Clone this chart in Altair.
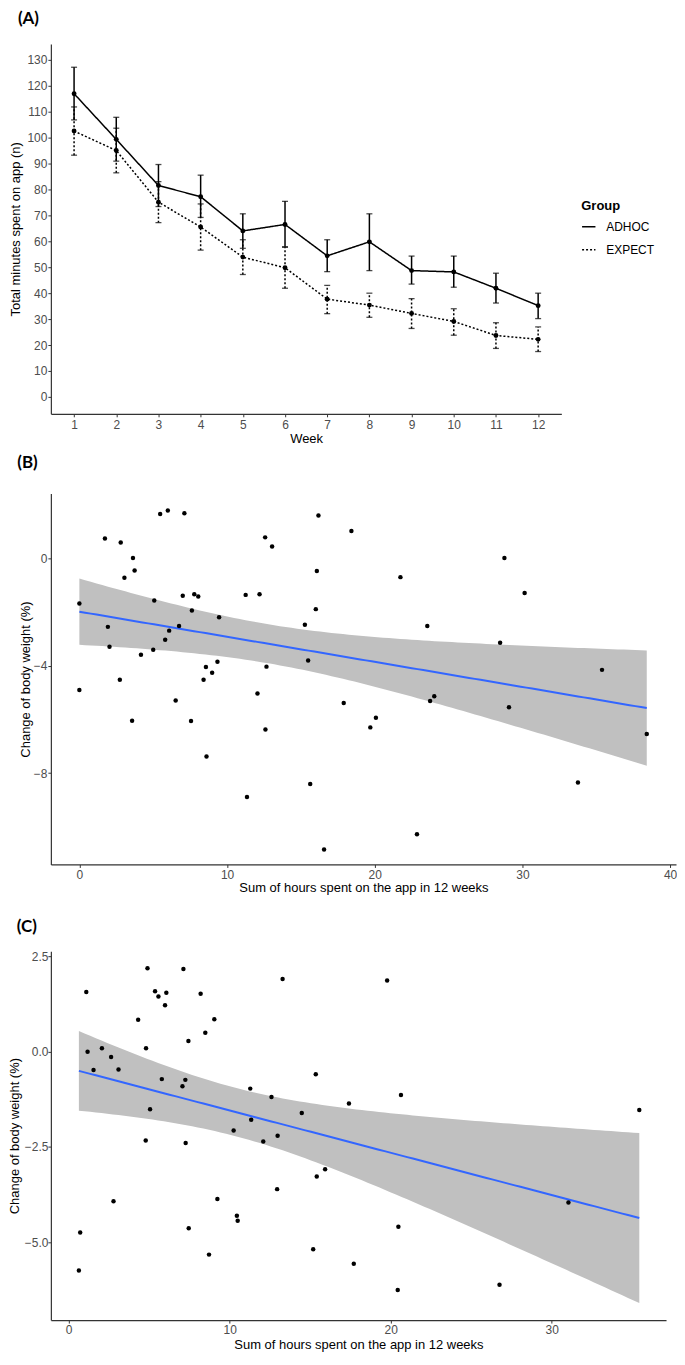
import altair as alt
import numpy as np
import pandas as pd

# ---------------- Panel A data ----------------
weeks = list(range(1, 13))
adhoc_mean = [116.9, 99.3, 81.5, 77.2, 64.0, 66.5, 54.4, 59.8, 48.7, 48.2, 41.9, 35.2]
adhoc_lo = [106.8, 90.9, 73.4, 69.2, 57.3, 57.9, 48.3, 48.7, 43.5, 42.3, 36.2, 30.2]
adhoc_hi = [127.1, 107.8, 89.6, 85.5, 70.6, 75.4, 60.6, 70.6, 54.3, 54.3, 47.7, 40.0]
expect_mean = [102.5, 95.0, 75.1, 65.5, 53.9, 49.8, 37.7, 35.4, 32.2, 29.1, 23.7, 22.2]
expect_lo = [93.2, 86.4, 67.2, 56.6, 47.2, 41.9, 32.1, 30.7, 26.4, 23.8, 18.7, 17.5]
expect_hi = [111.8, 103.6, 83.0, 74.4, 60.6, 57.7, 43.0, 40.0, 37.9, 34.0, 28.6, 27.0]
groups = ["ADHOC", "EXPECT"]

# ---------------- Panel B data ----------------
b_hours = [0.0, 0.0, 1.73, 1.93, 2.04, 2.74, 2.80, 3.05, 3.57, 3.63, 3.74, 4.17, 5.0, 5.07,
           5.47, 5.81, 5.99, 6.08, 6.52, 6.75, 7.0, 7.11, 7.56, 7.62, 7.78, 8.05, 8.41, 8.57,
           8.61, 8.99, 9.35, 9.46, 11.26, 11.35, 12.06, 12.20, 12.58, 12.60, 12.67, 13.05,
           15.27, 15.49, 15.63, 16.01, 16.08, 16.19, 16.57, 17.9, 18.42, 21.74, 23.56, 19.70,
           20.08, 23.75, 24.03, 22.86, 28.78, 28.49, 29.09, 30.15, 33.76, 35.39, 38.42]
b_change = [-1.69, -4.91, 0.73, -2.56, -3.30, -4.53, 0.58, -0.73, -6.05, 0.0, -0.46, -3.60,
            -3.41, -1.58, 1.64, -3.04, 1.77, -2.70, -5.30, -2.53, -1.40, 1.67, -6.06, -1.95,
            -1.35, -1.43, -4.53, -4.05, -7.38, -4.27, -3.86, -2.20, -1.37, -8.89, -5.04, -1.35,
            0.77, -6.38, -4.04, 0.43, -2.48, -3.81, -8.41, -1.90, -0.48, 1.58, -10.84, -5.39,
            1.01, -0.71, -2.53, -6.30, -5.94, -5.32, -5.14, -10.28, 0.0, -3.15, -5.55, -1.30,
            -8.35, -4.16, -6.55]

# ---------------- Panel C data ----------------
c_hours = [1.10, 1.18, 1.55, 2.07, 2.64, 3.10, 2.79, 0.72, 0.64, 4.32, 4.81, 4.90, 4.79, 5.06,
           5.37, 5.58, 6.07, 5.99, 5.79, 7.13, 7.44, 7.25, 7.07, 7.27, 7.46, 8.20, 8.49, 9.05,
           9.24, 8.72, 10.25, 10.45, 10.50, 11.28, 11.34, 12.09, 12.60, 12.98, 12.95, 13.29,
           14.48, 15.35, 15.41, 15.19, 15.93, 17.41, 19.78, 20.64, 17.71, 20.48, 20.44, 26.76,
           31.04, 35.44]
c_change = [1.57, 0.0, -0.48, 0.09, -0.14, -0.47, -3.93, -4.75, -5.75, 0.84, 0.09, 2.19, -2.33,
            -1.51, 1.59, 1.45, 1.55, 1.22, -0.72, 2.17, 0.28, -0.74, -0.91, -2.40, -4.64, 1.52,
            0.50, 0.85, -3.87, -5.33, -2.07, -4.31, -4.44, -0.97, -1.79, -2.36, -1.19, -2.21,
            -3.61, 1.91, -1.61, -0.59, -3.28, -5.19, -3.09, -1.36, 1.87, -1.14, -5.57, -4.60,
            -6.26, -6.12, -3.96, -1.53]


def fit_band(xs, ys, n=100, t=2.0):
    x = np.array(xs, dtype=float)
    y = np.array(ys, dtype=float)
    nobs = len(x)
    xm = x.mean()
    sxx = ((x - xm) ** 2).sum()
    b = ((x - xm) * (y - y.mean())).sum() / sxx
    a = y.mean() - b * xm
    s = np.sqrt(((y - (a + b * x)) ** 2).sum() / (nobs - 2))
    grid = np.linspace(x.min(), x.max(), n)
    fit = a + b * grid
    se = s * np.sqrt(1.0 / nobs + (grid - xm) ** 2 / sxx)
    return pd.DataFrame({"x": grid, "fit": fit, "lo": fit - t * se, "hi": fit + t * se})


FONT = "Liberation Sans"
LABEL_COLOR = "#4d4d4d"
AXIS_COLOR = "#333333"


def axis(**kw):
    base = dict(grid=False, domainColor=AXIS_COLOR, domainWidth=1.2, tickColor=AXIS_COLOR,
                tickSize=3, tickWidth=1, labelColor=LABEL_COLOR, labelFontSize=12,
                labelFont=FONT, titleFont=FONT, titleFontSize=13, titleFontWeight="normal",
                titleColor="black", labelOverlap=False)
    base.update(kw)
    return alt.Axis(**base)


def panel_title(txt, offset):
    return alt.TitleParams(txt, anchor="start", font="Lato", fontSize=17, fontWeight="bold",
                           color="black", offset=offset, dx=8)


# ---------------- Panel A ----------------
rows = []
for g, m, lo, hi in [("ADHOC", adhoc_mean, adhoc_lo, adhoc_hi),
                     ("EXPECT", expect_mean, expect_lo, expect_hi)]:
    for w, mm, ll, hh in zip(weeks, m, lo, hi):
        rows.append({"Week": w, "Group": g, "Mean": mm, "Lo": ll, "Hi": hh})
dfA = pd.DataFrame(rows)

xscaleA = alt.Scale(domain=[0.45, 12.55], nice=False, zero=False)
xA_axis = axis(values=weeks, title="Week", labelPadding=3, titlePadding=2)
yA_axis = axis(values=list(range(0, 131, 10)), title="Total minutes spent on app (n)",
               labelPadding=1, titlePadding=4)
yscaleA = alt.Scale(domain=[-6.5, 136.1], nice=False, zero=False)


def xa():
    return alt.X("Week:Q", scale=xscaleA, axis=xA_axis)


def ya(field):
    return alt.Y(field, scale=yscaleA, axis=yA_axis)


dash = alt.StrokeDash("Group:N",
                      scale=alt.Scale(domain=groups, range=[[1, 0], [2, 2]]),
                      legend=alt.Legend(title="Group", orient="none", legendX=532, legendY=157,
                                        titleFont=FONT, titleFontSize=13, titleFontWeight="bold",
                                        titleColor="black", labelFont=FONT, labelFontSize=12,
                                        labelColor="black", symbolType="stroke",
                                        symbolSize=180, symbolStrokeWidth=1.5,
                                        symbolStrokeColor="black", rowPadding=9,
                                        titlePadding=6, labelOffset=10))

linesA = alt.Chart(dfA).mark_line(color="black", strokeWidth=1.5).encode(
    x=xa(), y=ya("Mean:Q"), strokeDash=dash)
rules_ad = alt.Chart(dfA).transform_filter(alt.datum.Group == "ADHOC").mark_rule(
    color="black", strokeWidth=1.5).encode(x=xa(), y=ya("Lo:Q"), y2="Hi:Q")
rules_ex = alt.Chart(dfA).transform_filter(alt.datum.Group == "EXPECT").mark_rule(
    color="black", strokeWidth=1.5, strokeDash=[2, 2]).encode(x=xa(), y=ya("Lo:Q"), y2="Hi:Q")
caps_lo = alt.Chart(dfA).mark_tick(color="black", orient="horizontal", size=6,
                                   thickness=1.3).encode(x=xa(), y=ya("Lo:Q"))
caps_hi = alt.Chart(dfA).mark_tick(color="black", orient="horizontal", size=6,
                                   thickness=1.3).encode(x=xa(), y=ya("Hi:Q"))
ptsA = alt.Chart(dfA).mark_circle(color="black", size=24, opacity=1).encode(
    x=xa(), y=ya("Mean:Q"))

chartA = alt.layer(linesA, rules_ad, rules_ex, caps_lo, caps_hi, ptsA).properties(
    width=512, height=371, title=panel_title("(A)", 16))

# ---------------- Panel B ----------------
dfB = pd.DataFrame({"hours": b_hours, "change": b_change})
fitB = fit_band(b_hours, b_change)
xscaleB = alt.Scale(domain=[-1.93, 40.4], nice=False, zero=False)
xB_axis = axis(values=[0, 10, 20, 30, 40], labelPadding=2,
               title=["Sum of hours spent on the app in 12 weeks", " "],
               titleLineHeight=15, titlePadding=1)
yscaleB = alt.Scale(domain=[-11.4, 2.4], nice=False, zero=False)
yB_axis = axis(values=[-8, -4, 0], labelPadding=1, titlePadding=1,
               title=[" ", "Change of body weight (%)"], titleLineHeight=10)

bandB = alt.Chart(fitB).mark_area(color="#c0c0c0", opacity=1).encode(
    x=alt.X("x:Q", scale=xscaleB, axis=xB_axis),
    y=alt.Y("lo:Q", scale=yscaleB, axis=yB_axis), y2="hi:Q")
lineB = alt.Chart(fitB).mark_line(color="#3366FF", strokeWidth=2).encode(
    x=alt.X("x:Q", scale=xscaleB, axis=xB_axis),
    y=alt.Y("fit:Q", scale=yscaleB, axis=yB_axis))
ptsB = alt.Chart(dfB).mark_circle(color="black", size=20, opacity=1).encode(
    x=alt.X("hours:Q", scale=xscaleB, axis=xB_axis),
    y=alt.Y("change:Q", scale=yscaleB, axis=yB_axis))
chartB = alt.layer(bandB, lineB, ptsB).properties(
    width=627, height=372, title=panel_title("(B)", 22))

# ---------------- Panel C ----------------
dfC = pd.DataFrame({"hours": c_hours, "change": c_change})
fitC = fit_band(c_hours, c_change)
xscaleC = alt.Scale(domain=[-1.1, 37.1], nice=False, zero=False)
xC_axis = axis(values=[0, 10, 20, 30], labelPadding=1,
               title="Sum of hours spent on the app in 12 weeks", titlePadding=3)
yscaleC = alt.Scale(domain=[-7.05, 2.64], nice=False, zero=False)
yC_axis = axis(values=[-5, -2.5, 0, 2.5], format=".1f", labelPadding=0, titlePadding=2.5,
               title="Change of body weight (%)")

bandC = alt.Chart(fitC).mark_area(color="#c0c0c0", opacity=1).encode(
    x=alt.X("x:Q", scale=xscaleC, axis=xC_axis),
    y=alt.Y("lo:Q", scale=yscaleC, axis=yC_axis), y2="hi:Q")
lineC = alt.Chart(fitC).mark_line(color="#3366FF", strokeWidth=2).encode(
    x=alt.X("x:Q", scale=xscaleC, axis=xC_axis),
    y=alt.Y("fit:Q", scale=yscaleC, axis=yC_axis))
ptsC = alt.Chart(dfC).mark_circle(color="black", size=20, opacity=1).encode(
    x=alt.X("hours:Q", scale=xscaleC, axis=xC_axis),
    y=alt.Y("change:Q", scale=yscaleC, axis=yC_axis))
chartC = alt.layer(bandC, lineC, ptsC).properties(
    width=617, height=370, title=panel_title("(C)", 15))

chart = alt.vconcat(chartA, chartB, chartC, spacing=8)
chart = chart.configure(font=FONT).configure_view(strokeWidth=0, stroke="transparent")
chart = chart.properties(padding={"left": 0, "top": 0, "right": 0, "bottom": 0})

chart.save("out.html", embed_options={"renderer": "svg", "actions": False})
